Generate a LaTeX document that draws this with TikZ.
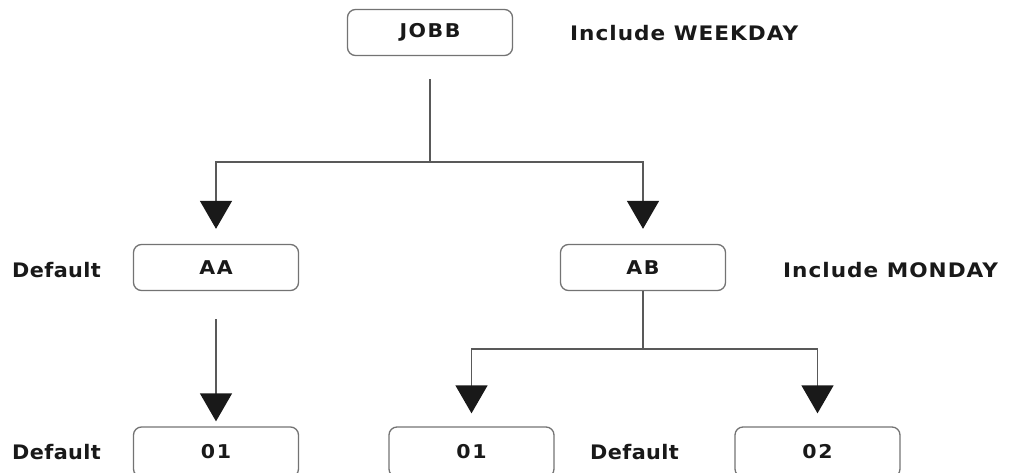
\documentclass[tikz,border=0pt]{standalone}
\usepackage{fontspec}
\setmainfont{DejaVu Sans}
\newfontfamily\widefont[FakeStretch=1.08,LetterSpace=5]{DejaVu Sans}
\newfontfamily\midfont[FakeStretch=1.04,LetterSpace=2]{DejaVu Sans}
\newfontfamily\boxfont[FakeStretch=1.08,LetterSpace=8]{DejaVu Sans}
\usetikzlibrary{arrows.meta}
\begin{document}
\begin{tikzpicture}[x=1pt,y=-1pt,
  job/.style={draw=black!55, line width=1.3pt, rounded corners=8pt,
    minimum width=165pt, minimum height=46pt, inner sep=0pt,
    font=\boxfont\fontsize{19}{19}\selectfont\bfseries, text=black!90},
  note/.style={font=\widefont\fontsize{20}{20}\selectfont\bfseries, text=black!90,
    inner sep=0pt, anchor=west},
  dflt/.style={note, font=\midfont\fontsize{20}{20}\selectfont\bfseries},
  link/.style={draw=black!65, line width=1.3pt},
  flow/.style={link, -{Triangle[width=32pt,length=28pt,fill=black!90,color=black!90]}}]

\useasboundingbox (0,0) rectangle (1009,473);

% job boxes
\node[job] (jobb) at (430,32.5) {JOBB};
\node[job] (aa) at (216,267.5) {AA};
\node[job] (ab) at (643,267.5) {AB};
\node[job, minimum height=50pt] (aa01) at (216,452) {01};
\node[job, minimum height=50pt] (ab01) at (471.5,452) {01};
\node[job, minimum height=50pt] (ab02) at (817.5,452) {02};

% side notes
\node[note] (incw) at (570,33) {Include WEEKDAY};
\node[note] (incm) at (783,270) {Include MONDAY};
\node[dflt] (dflt1) at (12,270) {Default};
\node[dflt] (dflt2) at (12,452) {Default};
\node[dflt] (dflt3) at (590,452) {Default};

% connectors
\coordinate (jsplit) at (430,162);
\draw[link, shorten <=23pt] (jobb.south) -- (jsplit);
\draw[flow, shorten >=15pt] (jsplit) -| (aa.north);
\draw[flow, shorten >=15pt] (jsplit) -| (ab.north);
\draw[flow, shorten <=28pt, shorten >=5pt] (aa.south) -- (aa01.north);
\coordinate (bsplit) at (643,349);
\draw[link] (ab.south) -- (bsplit);
\draw[flow, shorten >=13pt] (bsplit) -| (ab01.north);
\draw[flow, shorten >=13pt] (bsplit) -| (ab02.north);
\end{tikzpicture}
\end{document}
